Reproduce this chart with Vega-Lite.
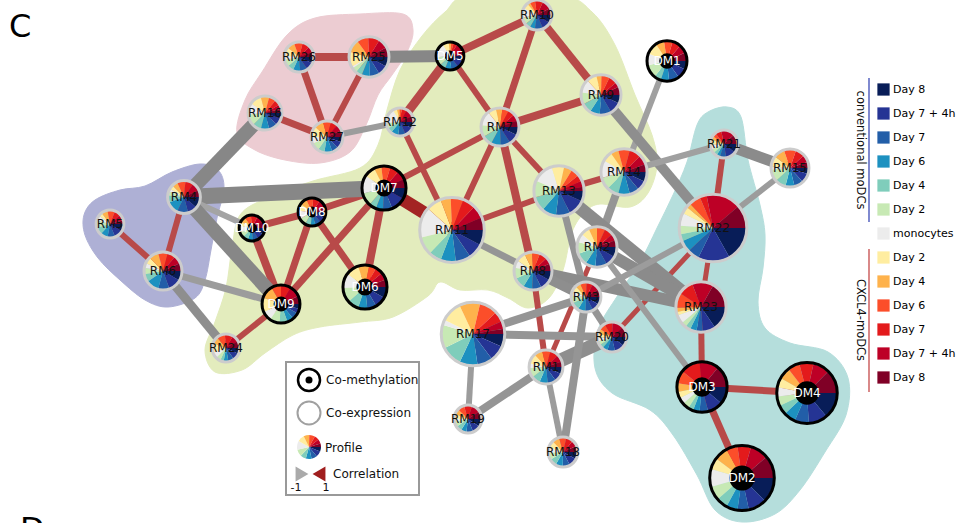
{
"$schema": "https://vega.github.io/schema/vega-lite/v6.json",
"width": 956, "height": 523, "padding": 0, "autosize": {"type": "none"},
"background": "white",
"config": {"view": {"stroke": null}, "font": "DejaVu Sans"},
"datasets": {
"nodes": [
{"id":"RM26","x":299,"y":57,"r":14.5,"kind":"RM","k01":25,"k02":30,"k03":30,"k04":30,"k05":25,"k06":30,"k07":15,"k08":35,"k09":30,"k10":35,"k11":30,"k12":25,"k13":20},
{"id":"RM25","x":369,"y":57,"r":19.5,"kind":"RM","k01":30,"k02":30,"k03":30,"k04":25,"k05":20,"k06":15,"k07":5,"k08":45,"k09":40,"k10":35,"k11":35,"k12":30,"k13":30},
{"id":"DM5","x":450,"y":56,"r":13.5,"kind":"DM","k01":20,"k02":30,"k03":30,"k04":25,"k05":25,"k06":35,"k07":60,"k08":25,"k09":10,"k10":10,"k11":15,"k12":40,"k13":15},
{"id":"RM16","x":265,"y":113,"r":16.5,"kind":"RM","k01":20,"k02":25,"k03":30,"k04":30,"k05":30,"k06":40,"k07":40,"k08":40,"k09":30,"k10":25,"k11":20,"k12":15,"k13":15},
{"id":"RM27","x":327,"y":137,"r":15.5,"kind":"RM","k01":20,"k02":25,"k03":25,"k04":30,"k05":25,"k06":30,"k07":25,"k08":40,"k09":35,"k10":30,"k11":25,"k12":25,"k13":25},
{"id":"RM12","x":400,"y":122,"r":13.5,"kind":"RM","k01":25,"k02":35,"k03":30,"k04":30,"k05":20,"k06":20,"k07":60,"k08":15,"k09":10,"k10":10,"k11":20,"k12":30,"k13":25},
{"id":"RM4","x":184,"y":197,"r":16,"kind":"RM","k01":40,"k02":35,"k03":40,"k04":45,"k05":25,"k06":15,"k07":10,"k08":15,"k09":20,"k10":30,"k11":30,"k12":30,"k13":25},
{"id":"RM5","x":110,"y":224,"r":13.5,"kind":"RM","k01":30,"k02":35,"k03":30,"k04":30,"k05":30,"k06":30,"k07":20,"k08":15,"k09":25,"k10":30,"k11":25,"k12":25,"k13":15},
{"id":"DM7","x":384,"y":188,"r":21.5,"kind":"DM","k01":30,"k02":40,"k03":25,"k04":20,"k05":20,"k06":35,"k07":50,"k08":30,"k09":20,"k10":25,"k11":25,"k12":25,"k13":25},
{"id":"DM8","x":312,"y":212,"r":13.5,"kind":"DM","k01":25,"k02":25,"k03":25,"k04":20,"k05":25,"k06":30,"k07":35,"k08":30,"k09":30,"k10":30,"k11":30,"k12":30,"k13":25},
{"id":"DM10","x":252,"y":228,"r":12.5,"kind":"DM","k01":30,"k02":30,"k03":25,"k04":25,"k05":25,"k06":25,"k07":30,"k08":20,"k09":25,"k10":30,"k11":30,"k12":35,"k13":30},
{"id":"RM11","x":452,"y":230,"r":31.5,"kind":"RM","k01":30,"k02":30,"k03":30,"k04":30,"k05":25,"k06":35,"k07":60,"k08":30,"k09":20,"k10":25,"k11":25,"k12":25,"k13":25},
{"id":"RM10","x":537,"y":15,"r":14.5,"kind":"RM","k01":30,"k02":30,"k03":30,"k04":20,"k05":20,"k06":25,"k07":35,"k08":20,"k09":10,"k10":20,"k11":30,"k12":35,"k13":25},
{"id":"DM1","x":667,"y":61,"r":19.5,"kind":"DM","k01":25,"k02":30,"k03":30,"k04":25,"k05":20,"k06":40,"k07":35,"k08":35,"k09":25,"k10":25,"k11":25,"k12":25,"k13":25},
{"id":"RM9","x":601,"y":95,"r":19.5,"kind":"RM","k01":25,"k02":35,"k03":35,"k04":30,"k05":30,"k06":35,"k07":40,"k08":30,"k09":15,"k10":25,"k11":25,"k12":15,"k13":25},
{"id":"RM7","x":500,"y":127,"r":18.5,"kind":"RM","k01":25,"k02":30,"k03":30,"k04":30,"k05":30,"k06":35,"k07":45,"k08":25,"k09":20,"k10":20,"k11":20,"k12":20,"k13":20},
{"id":"RM13","x":559,"y":191,"r":24.5,"kind":"RM","k01":25,"k02":40,"k03":35,"k04":35,"k05":35,"k06":40,"k07":50,"k08":30,"k09":20,"k10":20,"k11":15,"k12":15,"k13":10},
{"id":"RM14","x":624,"y":172,"r":22.5,"kind":"RM","k01":25,"k02":25,"k03":25,"k04":30,"k05":30,"k06":30,"k07":45,"k08":25,"k09":20,"k10":30,"k11":30,"k12":25,"k13":20},
{"id":"RM21","x":724,"y":144,"r":13.5,"kind":"RM","k01":35,"k02":40,"k03":25,"k04":15,"k05":15,"k06":15,"k07":20,"k08":20,"k09":15,"k10":15,"k11":25,"k12":55,"k13":40},
{"id":"RM15","x":790,"y":168,"r":18.5,"kind":"RM","k01":20,"k02":30,"k03":30,"k04":30,"k05":35,"k06":40,"k07":10,"k08":35,"k09":35,"k10":40,"k11":30,"k12":25,"k13":20},
{"id":"RM22","x":713,"y":228,"r":33,"kind":"RM","k01":60,"k02":55,"k03":20,"k04":20,"k05":12,"k06":15,"k07":22,"k08":12,"k09":8,"k10":20,"k11":12,"k12":60,"k13":40},
{"id":"RM2","x":597,"y":247,"r":19.5,"kind":"RM","k01":30,"k02":30,"k03":35,"k04":30,"k05":35,"k06":35,"k07":25,"k08":25,"k09":25,"k10":25,"k11":25,"k12":20,"k13":20},
{"id":"RM6","x":163,"y":271,"r":18.5,"kind":"RM","k01":30,"k02":40,"k03":35,"k04":40,"k05":25,"k06":20,"k07":15,"k08":20,"k09":30,"k10":30,"k11":25,"k12":25,"k13":25},
{"id":"DM9","x":281,"y":304,"r":18.5,"kind":"DM","k01":15,"k02":15,"k03":20,"k04":20,"k05":25,"k06":30,"k07":30,"k08":45,"k09":40,"k10":30,"k11":30,"k12":35,"k13":25},
{"id":"DM6","x":365,"y":287,"r":21.5,"kind":"DM","k01":30,"k02":30,"k03":25,"k04":25,"k05":30,"k06":40,"k07":40,"k08":35,"k09":30,"k10":20,"k11":20,"k12":20,"k13":20},
{"id":"RM24","x":226,"y":348,"r":13.5,"kind":"RM","k01":25,"k02":30,"k03":25,"k04":20,"k05":15,"k06":20,"k07":25,"k08":40,"k09":30,"k10":35,"k11":35,"k12":30,"k13":30},
{"id":"RM8","x":533,"y":271,"r":18.5,"kind":"RM","k01":30,"k02":35,"k03":30,"k04":30,"k05":35,"k06":35,"k07":25,"k08":30,"k09":25,"k10":25,"k11":25,"k12":20,"k13":25},
{"id":"RM3","x":586,"y":297,"r":14.5,"kind":"RM","k01":30,"k02":30,"k03":30,"k04":30,"k05":30,"k06":30,"k07":20,"k08":20,"k09":20,"k10":25,"k11":25,"k12":30,"k13":30},
{"id":"RM23","x":701,"y":307,"r":24.5,"kind":"RM","k01":55,"k02":30,"k03":15,"k04":15,"k05":12,"k06":12,"k07":20,"k08":8,"k09":10,"k10":35,"k11":35,"k12":50,"k13":60},
{"id":"RM17","x":473,"y":334,"r":31,"kind":"RM","k01":25,"k02":30,"k03":30,"k04":35,"k05":40,"k06":45,"k07":10,"k08":40,"k09":40,"k10":35,"k11":20,"k12":15,"k13":10},
{"id":"RM20","x":612,"y":337,"r":14.5,"kind":"RM","k01":35,"k02":40,"k03":30,"k04":20,"k05":15,"k06":15,"k07":15,"k08":15,"k09":20,"k10":25,"k11":30,"k12":45,"k13":40},
{"id":"RM1","x":546,"y":367,"r":16.5,"kind":"RM","k01":25,"k02":30,"k03":30,"k04":30,"k05":30,"k06":35,"k07":15,"k08":35,"k09":30,"k10":30,"k11":30,"k12":25,"k13":20},
{"id":"RM19","x":468,"y":419,"r":13.5,"kind":"RM","k01":35,"k02":35,"k03":30,"k04":25,"k05":25,"k06":25,"k07":10,"k08":20,"k09":25,"k10":30,"k11":35,"k12":40,"k13":35},
{"id":"RM18","x":563,"y":452,"r":14.5,"kind":"RM","k01":30,"k02":35,"k03":30,"k04":30,"k05":30,"k06":30,"k07":20,"k08":30,"k09":30,"k10":30,"k11":30,"k12":25,"k13":25},
{"id":"DM3","x":702,"y":387,"r":24.5,"kind":"DM","k01":40,"k02":35,"k03":20,"k04":15,"k05":12,"k06":15,"k07":15,"k08":15,"k09":20,"k10":30,"k11":45,"k12":45,"k13":50},
{"id":"DM4","x":807,"y":393,"r":29.5,"kind":"DM","k01":55,"k02":40,"k03":30,"k04":25,"k05":20,"k06":20,"k07":20,"k08":20,"k09":25,"k10":25,"k11":30,"k12":35,"k13":50},
{"id":"DM2","x":742,"y":478,"r":31.5,"kind":"DM","k01":55,"k02":40,"k03":25,"k04":25,"k05":25,"k06":30,"k07":40,"k08":25,"k09":30,"k10":25,"k11":30,"k12":40,"k13":50},
{"id":"Profile","x":309,"y":447,"r":12,"kind":"L","k01":20,"k02":25,"k03":25,"k04":25,"k05":25,"k06":30,"k07":40,"k08":30,"k09":25,"k10":25,"k11":20,"k12":20,"k13":15}
],
"edges": [
{"s":"RM26","t":"RM25","c":0.55,"w":8},
{"s":"RM26","t":"RM27","c":0.55,"w":7},
{"s":"RM25","t":"RM27","c":0.55,"w":6},
{"s":"RM16","t":"RM27","c":0.55,"w":7},
{"s":"RM5","t":"RM6","c":0.55,"w":6},
{"s":"RM4","t":"RM6","c":0.55,"w":6},
{"s":"DM5","t":"RM10","c":0.55,"w":8},
{"s":"DM5","t":"RM12","c":0.55,"w":9},
{"s":"DM5","t":"RM7","c":0.55,"w":6},
{"s":"RM10","t":"RM7","c":0.55,"w":7},
{"s":"RM10","t":"RM9","c":0.55,"w":8},
{"s":"RM9","t":"RM7","c":0.55,"w":8},
{"s":"RM7","t":"RM13","c":0.55,"w":6},
{"s":"RM7","t":"RM11","c":0.55,"w":6},
{"s":"RM7","t":"DM7","c":0.55,"w":6},
{"s":"RM7","t":"RM8","c":0.55,"w":8},
{"s":"RM12","t":"RM11","c":0.55,"w":6},
{"s":"DM7","t":"RM11","c":0.95,"w":13},
{"s":"DM8","t":"DM7","c":0.55,"w":7},
{"s":"DM10","t":"DM8","c":0.55,"w":7},
{"s":"DM10","t":"DM9","c":0.55,"w":8},
{"s":"DM8","t":"DM9","c":0.55,"w":7},
{"s":"DM7","t":"DM9","c":0.55,"w":7},
{"s":"DM7","t":"DM6","c":0.55,"w":8},
{"s":"DM8","t":"DM6","c":0.55,"w":7},
{"s":"DM9","t":"RM24","c":0.55,"w":6},
{"s":"RM11","t":"RM13","c":0.55,"w":6},
{"s":"RM14","t":"RM13","c":0.55,"w":6},
{"s":"RM21","t":"RM22","c":0.55,"w":6},
{"s":"RM22","t":"RM20","c":0.55,"w":5},
{"s":"RM22","t":"RM23","c":0.55,"w":5},
{"s":"RM23","t":"DM3","c":0.55,"w":6},
{"s":"DM3","t":"DM4","c":0.55,"w":7},
{"s":"DM3","t":"DM2","c":0.55,"w":7},
{"s":"RM8","t":"RM1","c":0.55,"w":6},
{"s":"RM2","t":"RM1","c":0.55,"w":5},
{"s":"RM25","t":"DM5","c":-0.9,"w":12},
{"s":"RM27","t":"RM12","c":-0.6,"w":6},
{"s":"RM16","t":"RM4","c":-0.9,"w":14},
{"s":"RM4","t":"DM7","c":-0.9,"w":16},
{"s":"RM4","t":"DM10","c":-0.5,"w":6},
{"s":"RM4","t":"DM9","c":-0.9,"w":14},
{"s":"RM6","t":"DM9","c":-0.6,"w":7},
{"s":"RM6","t":"RM24","c":-0.8,"w":9},
{"s":"DM1","t":"RM14","c":-0.55,"w":6},
{"s":"RM9","t":"RM22","c":-0.8,"w":10},
{"s":"RM14","t":"RM21","c":-0.55,"w":6},
{"s":"RM21","t":"RM15","c":-0.85,"w":11},
{"s":"RM15","t":"RM22","c":-0.6,"w":6},
{"s":"RM14","t":"RM2","c":-0.7,"w":8},
{"s":"RM13","t":"RM23","c":-0.85,"w":13},
{"s":"RM13","t":"RM3","c":-0.7,"w":7},
{"s":"RM11","t":"RM8","c":-0.7,"w":7},
{"s":"RM8","t":"RM23","c":-0.85,"w":12},
{"s":"RM8","t":"RM3","c":-0.8,"w":10},
{"s":"RM2","t":"RM23","c":-0.85,"w":12},
{"s":"RM2","t":"DM3","c":-0.6,"w":6},
{"s":"RM22","t":"RM3","c":-0.6,"w":6},
{"s":"RM17","t":"RM3","c":-0.7,"w":8},
{"s":"RM17","t":"RM20","c":-0.7,"w":8},
{"s":"RM17","t":"RM19","c":-0.6,"w":6},
{"s":"RM19","t":"RM1","c":-0.7,"w":8},
{"s":"RM1","t":"RM20","c":-0.8,"w":14},
{"s":"RM1","t":"RM18","c":-0.6,"w":6},
{"s":"RM3","t":"RM18","c":-0.7,"w":8},
{"s":"RM3","t":"RM20","c":-0.7,"w":7}
],
"hulls": [
{"g":"pink","o":1,"x":237,"y":133},{"g":"pink","o":2,"x":245,"y":100},{"g":"pink","o":3,"x":262,"y":72},{"g":"pink","o":4,"x":287,"y":35},{"g":"pink","o":5,"x":315,"y":18},{"g":"pink","o":6,"x":360,"y":14},{"g":"pink","o":7,"x":403,"y":14},{"g":"pink","o":8,"x":413,"y":30},{"g":"pink","o":9,"x":407,"y":52},{"g":"pink","o":10,"x":392,"y":75},{"g":"pink","o":11,"x":378,"y":95},{"g":"pink","o":12,"x":366,"y":125},{"g":"pink","o":13,"x":350,"y":152},{"g":"pink","o":14,"x":320,"y":163},{"g":"pink","o":15,"x":285,"y":160},{"g":"pink","o":16,"x":255,"y":150},
{"g":"purple","o":1,"x":84,"y":215},{"g":"purple","o":2,"x":95,"y":200},{"g":"purple","o":3,"x":120,"y":190},{"g":"purple","o":4,"x":145,"y":186},{"g":"purple","o":5,"x":172,"y":172},{"g":"purple","o":6,"x":200,"y":164},{"g":"purple","o":7,"x":218,"y":170},{"g":"purple","o":8,"x":224,"y":188},{"g":"purple","o":9,"x":217,"y":218},{"g":"purple","o":10,"x":211,"y":250},{"g":"purple","o":11,"x":205,"y":280},{"g":"purple","o":12,"x":195,"y":298},{"g":"purple","o":13,"x":168,"y":307},{"g":"purple","o":14,"x":145,"y":300},{"g":"purple","o":15,"x":120,"y":280},{"g":"purple","o":16,"x":98,"y":258},{"g":"purple","o":17,"x":85,"y":235},
{"g":"green","o":1,"x":470,"y":-5},{"g":"green","o":2,"x":560,"y":-5},{"g":"green","o":3,"x":592,"y":12},{"g":"green","o":4,"x":615,"y":45},{"g":"green","o":5,"x":635,"y":95},{"g":"green","o":6,"x":652,"y":135},{"g":"green","o":7,"x":657,"y":165},{"g":"green","o":8,"x":648,"y":193},{"g":"green","o":9,"x":630,"y":207},{"g":"green","o":10,"x":600,"y":204},{"g":"green","o":11,"x":585,"y":212},{"g":"green","o":12,"x":572,"y":232},{"g":"green","o":13,"x":563,"y":270},{"g":"green","o":14,"x":549,"y":298},{"g":"green","o":15,"x":528,"y":308},{"g":"green","o":16,"x":508,"y":298},{"g":"green","o":17,"x":488,"y":290},{"g":"green","o":18,"x":460,"y":290},{"g":"green","o":19,"x":440,"y":282},{"g":"green","o":20,"x":428,"y":296},{"g":"green","o":21,"x":393,"y":317},{"g":"green","o":22,"x":360,"y":322},{"g":"green","o":23,"x":320,"y":327},{"g":"green","o":24,"x":293,"y":335},{"g":"green","o":25,"x":265,"y":353},{"g":"green","o":26,"x":242,"y":370},{"g":"green","o":27,"x":215,"y":372},{"g":"green","o":28,"x":205,"y":350},{"g":"green","o":29,"x":215,"y":322},{"g":"green","o":30,"x":226,"y":288},{"g":"green","o":31,"x":232,"y":248},{"g":"green","o":32,"x":240,"y":215},{"g":"green","o":33,"x":267,"y":198},{"g":"green","o":34,"x":313,"y":181},{"g":"green","o":35,"x":360,"y":168},{"g":"green","o":36,"x":378,"y":145},{"g":"green","o":37,"x":387,"y":110},{"g":"green","o":38,"x":400,"y":70},{"g":"green","o":39,"x":422,"y":36},{"g":"green","o":40,"x":445,"y":12},
{"g":"teal","o":1,"x":697,"y":125},{"g":"teal","o":2,"x":708,"y":112},{"g":"teal","o":3,"x":727,"y":107},{"g":"teal","o":4,"x":741,"y":117},{"g":"teal","o":5,"x":748,"y":160},{"g":"teal","o":6,"x":760,"y":205},{"g":"teal","o":7,"x":765,"y":235},{"g":"teal","o":8,"x":763,"y":268},{"g":"teal","o":9,"x":758,"y":302},{"g":"teal","o":10,"x":765,"y":328},{"g":"teal","o":11,"x":790,"y":343},{"g":"teal","o":12,"x":828,"y":352},{"g":"teal","o":13,"x":848,"y":378},{"g":"teal","o":14,"x":846,"y":415},{"g":"teal","o":15,"x":825,"y":452},{"g":"teal","o":16,"x":800,"y":490},{"g":"teal","o":17,"x":775,"y":514},{"g":"teal","o":18,"x":742,"y":522},{"g":"teal","o":19,"x":715,"y":510},{"g":"teal","o":20,"x":697,"y":475},{"g":"teal","o":21,"x":673,"y":435},{"g":"teal","o":22,"x":650,"y":410},{"g":"teal","o":23,"x":612,"y":393},{"g":"teal","o":24,"x":595,"y":368},{"g":"teal","o":25,"x":598,"y":330},{"g":"teal","o":26,"x":618,"y":295},{"g":"teal","o":27,"x":640,"y":262},{"g":"teal","o":28,"x":657,"y":228},{"g":"teal","o":29,"x":673,"y":195},{"g":"teal","o":30,"x":687,"y":162}
]
},
"encoding": {
"x": {"field": "x", "type": "quantitative", "scale": {"domain": [0, 956], "nice": false, "zero": false}, "axis": null},
"y": {"field": "y", "type": "quantitative", "scale": {"domain": [0, 523], "nice": false, "zero": false, "reverse": true}, "axis": null}
},
"layer": [
{"data": {"name": "hulls"}, "transform": [{"filter": "datum.g === 'pink'"}], "mark": {"type": "line", "interpolate": "cardinal-closed", "fill": "#ecccd2", "stroke": "#ecccd2", "strokeWidth": 1}, "encoding": {"order": {"field": "o", "type": "quantitative"}}},
{"data": {"name": "hulls"}, "transform": [{"filter": "datum.g === 'purple'"}], "mark": {"type": "line", "interpolate": "cardinal-closed", "fill": "#aeb0d5", "stroke": "#aeb0d5", "strokeWidth": 1}, "encoding": {"order": {"field": "o", "type": "quantitative"}}},
{"data": {"name": "hulls"}, "transform": [{"filter": "datum.g === 'green'"}], "mark": {"type": "line", "interpolate": "cardinal-closed", "fill": "#e3ecbd", "stroke": "#e3ecbd", "strokeWidth": 1}, "encoding": {"order": {"field": "o", "type": "quantitative"}}},
{"data": {"name": "hulls"}, "transform": [{"filter": "datum.g === 'teal'"}], "mark": {"type": "line", "interpolate": "cardinal-closed", "fill": "#b5dedc", "stroke": "#b5dedc", "strokeWidth": 1}, "encoding": {"order": {"field": "o", "type": "quantitative"}}},
{"data": {"values": [{"x": 286, "y": 362, "x2": 419, "y2": 495}]}, "mark": {"type": "rect", "fill": "white", "stroke": "#999999", "strokeWidth": 2}, "encoding": {"x2": {"field": "x2"}, "y2": {"field": "y2"}}},
{"data": {"name": "edges"},
 "transform": [
  {"lookup": "t", "from": {"data": {"name": "nodes"}, "key": "id", "fields": ["x", "y"]}, "as": ["x2", "y2"]},
  {"lookup": "s", "from": {"data": {"name": "nodes"}, "key": "id", "fields": ["x", "y"]}}
 ],
 "mark": {"type": "rule"},
 "encoding": {
  "x2": {"field": "x2"}, "y2": {"field": "y2"},
  "stroke": {"field": "c", "type": "quantitative", "scale": {"domain": [-1, -0.4, 0.4, 1], "range": ["#808080", "#ababab", "#bf5757", "#a01e1e"]}, "legend": null},
  "strokeWidth": {"field": "w", "type": "quantitative", "scale": {"domain": [0, 20], "range": [0, 20]}, "legend": null}
 }},
{"data": {"name": "nodes"},
 "transform": [
  {"fold": ["k01","k02","k03","k04","k05","k06","k07","k08","k09","k10","k11","k12","k13"], "as": ["key", "v"]},
  {"stack": "v", "groupby": ["id"], "sort": [{"field": "key", "order": "ascending"}], "offset": "normalize", "as": ["t0", "t1"]}
 ],
 "mark": {"type": "arc", "strokeWidth": 0},
 "encoding": {
  "theta": {"field": "t0", "type": "quantitative", "stack": null, "scale": {"domain": [0, 1], "range": [1.5708, 7.854]}},
  "theta2": {"field": "t1"},
  "radius": {"field": "r", "type": "quantitative", "scale": {"type": "linear", "domain": [0, 40], "range": [0, 40], "zero": true}},
  "color": {"field": "key", "type": "nominal",
   "scale": {"domain": ["k01","k02","k03","k04","k05","k06","k07","k08","k09","k10","k11","k12","k13"],
             "range": ["#081d58","#253494","#225ea8","#1d91c0","#7fcdbb","#c7e9b4","#ececec","#ffeda0","#feb24c","#fc4e2a","#e31a1c","#bd0026","#800026"]},
   "legend": {"title": null, "orient": "none", "legendX": 877, "legendY": 83, "symbolType": "square", "symbolSize": 150, "symbolStrokeWidth": 0, "labelFontSize": 11, "labelFont": "DejaVu Sans", "labelColor": "#000000", "rowPadding": 11, "labelOffset": 3,
    "labelExpr": "['Day 8','Day 7 + 4h','Day 7','Day 6','Day 4','Day 2','monocytes','Day 2','Day 4','Day 6','Day 7','Day 7 + 4h','Day 8'][toNumber(slice(datum.value, 1)) - 1]"}}
 }},
{"data": {"name": "nodes"}, "transform": [{"filter": "datum.kind !== 'L'"}],
 "mark": {"type": "point", "shape": "circle", "filled": false, "strokeWidth": 3, "opacity": 1},
 "encoding": {
  "size": {"field": "r", "type": "quantitative", "scale": {"type": "pow", "exponent": 2, "domain": [0, 40], "range": [0, 6724]}, "legend": null},
  "stroke": {"condition": {"test": "datum.kind === 'DM'", "value": "#000000"}, "value": "#cccccc"}
 }},
{"data": {"name": "nodes"}, "transform": [{"filter": "datum.kind === 'DM'"}],
 "mark": {"type": "point", "shape": "circle", "filled": true, "color": "#000000", "opacity": 1},
 "encoding": {
  "size": {"field": "r", "type": "quantitative", "scale": {"type": "pow", "exponent": 2, "domain": [0, 40], "range": [0, 1024]}, "legend": null}
 }},
{"data": {"name": "nodes"}, "transform": [{"filter": "datum.kind !== 'L'"}],
 "mark": {"type": "text", "fontSize": 12, "font": "DejaVu Sans", "align": "center", "baseline": "middle"},
 "encoding": {
  "text": {"field": "id"},
  "color": {"condition": {"test": "datum.kind === 'DM'", "value": "#ffffff"}, "value": "#111111"}
 }},
{"data": {"values": [{"x": 309, "y": 380}]}, "mark": {"type": "point", "shape": "circle", "filled": false, "size": 484, "stroke": "#000000", "strokeWidth": 2.5, "opacity": 1}},
{"data": {"values": [{"x": 309, "y": 380}]}, "mark": {"type": "point", "shape": "circle", "filled": true, "size": 49, "color": "#000000", "opacity": 1}},
{"data": {"values": [{"x": 309, "y": 413}]}, "mark": {"type": "point", "shape": "circle", "filled": false, "size": 529, "stroke": "#a0a0a0", "strokeWidth": 2, "opacity": 1}},
{"data": {"values": [{"x": 302, "y": 474}]}, "mark": {"type": "point", "shape": "triangle-right", "filled": true, "size": 220, "color": "#aaaaaa", "opacity": 1}},
{"data": {"values": [{"x": 319, "y": 474}]}, "mark": {"type": "point", "shape": "triangle-left", "filled": true, "size": 220, "color": "#a01e1e", "opacity": 1}},
{"data": {"values": [{"x": 326, "y": 380, "t": "Co-methylation"}, {"x": 326, "y": 413, "t": "Co-expression"}, {"x": 325, "y": 448, "t": "Profile"}, {"x": 333, "y": 474, "t": "Correlation"}]},
 "mark": {"type": "text", "align": "left", "baseline": "middle", "fontSize": 12, "font": "DejaVu Sans", "color": "#111111"}, "encoding": {"text": {"field": "t"}}},
{"data": {"values": [{"x": 296, "y": 488, "t": "-1"}, {"x": 326, "y": 488, "t": "1"}]},
 "mark": {"type": "text", "align": "center", "baseline": "middle", "fontSize": 11, "font": "DejaVu Sans", "color": "#111111"}, "encoding": {"text": {"field": "t"}}},
{"data": {"values": [{"x": 9, "y": 37, "t": "C"}, {"x": 20, "y": 540, "t": "D"}]},
 "mark": {"type": "text", "align": "left", "baseline": "alphabetic", "fontSize": 32, "font": "DejaVu Sans", "color": "#000000"}, "encoding": {"text": {"field": "t"}}},
{"data": {"values": [{"x": 860, "y": 150, "t": "conventional moDCs"}, {"x": 860, "y": 320, "t": "CXCL4-moDCs"}]},
 "mark": {"type": "text", "angle": 90, "align": "center", "baseline": "middle", "fontSize": 11.5, "font": "DejaVu Sans", "color": "#111111"}, "encoding": {"text": {"field": "t"}}},
{"data": {"values": [{"x": 869, "y": 78, "x2": 869, "y2": 222}]}, "mark": {"type": "rule", "color": "#2b3bb0", "strokeWidth": 1.2}, "encoding": {"x2": {"field": "x2"}, "y2": {"field": "y2"}}},
{"data": {"values": [{"x": 869, "y": 249, "x2": 869, "y2": 392}]}, "mark": {"type": "rule", "color": "#c03a3a", "strokeWidth": 1.2}, "encoding": {"x2": {"field": "x2"}, "y2": {"field": "y2"}}}
],
"resolve": {"scale": {"size": "independent"}}
}
